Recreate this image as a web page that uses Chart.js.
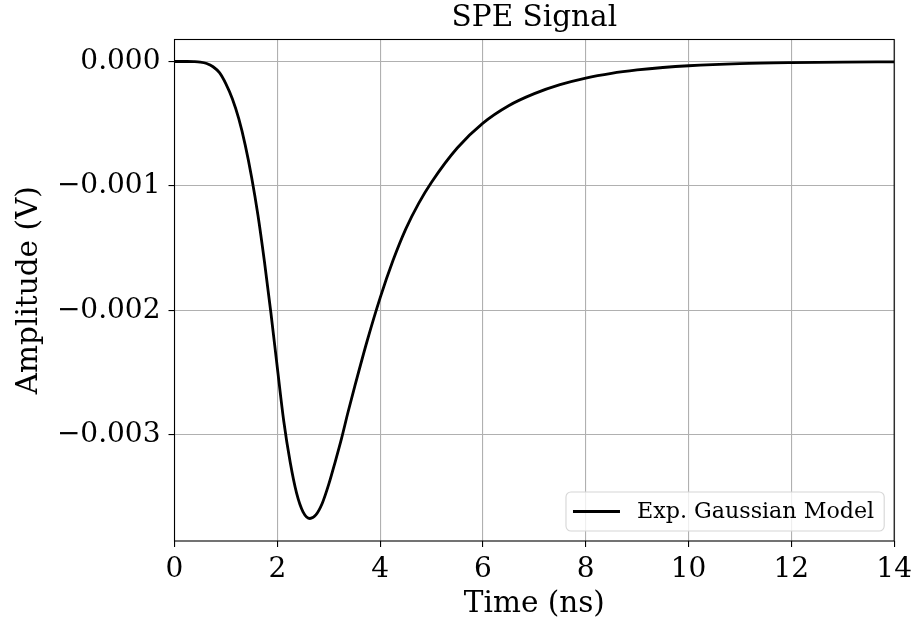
<!DOCTYPE html>
<html>
<head>
<meta charset="utf-8">
<script src="https://cdn.jsdelivr.net/npm/chart.js@4.4.1/dist/chart.umd.min.js"></script>
<style>
  html, body { margin: 0; padding: 0; background: #ffffff; }
  #wrap { width: 918px; height: 620px; }
</style>
</head>
<body>
<div id="wrap"><canvas id="c" width="918" height="620"></canvas></div>
<script>
// ---- data ----
const timeNs = [0.0, 0.25, 0.375, 0.5, 0.625, 0.75, 0.875, 1.0, 1.125, 1.25, 1.375, 1.5, 1.625, 1.75, 1.875, 2.0, 2.125, 2.25, 2.375, 2.5, 2.635, 2.75, 2.875, 3.0, 3.125, 3.25, 3.375, 3.5, 3.75, 4.0, 4.25, 4.5, 4.75, 5.0, 5.5, 6.0, 6.5, 7.0, 7.5, 8.0, 8.5, 9.0, 9.5, 10.0, 11.0, 12.0, 13.0, 14.0];
const amplitudeV = [0.0, 0.0, -0.0000012, -0.000005, -0.000016, -0.000042, -0.00009, -0.00018, -0.0003, -0.00046, -0.00067, -0.00093, -0.00124, -0.00161, -0.00202, -0.00246, -0.00289, -0.00322, -0.00347, -0.00362, -0.003674, -0.003645, -0.003551, -0.0034, -0.00322, -0.00303, -0.00282, -0.002622, -0.002243, -0.0019, -0.0016, -0.001345, -0.00114, -0.00097, -0.000695, -0.000495, -0.000355, -0.000258, -0.000186, -0.000133, -0.000095, -0.000068, -0.000048, -0.000034, -0.000017, -0.0000087, -0.0000044, -0.0000022];
const xTicks = [0, 2, 4, 6, 8, 10, 12, 14];
const yTicks = [0.0, -0.001, -0.002, -0.003];
const seriesLabel = 'Exp. Gaussian Model';
const chartTitle = 'SPE Signal';
const xLabel = 'Time (ns)';
const yLabel = 'Amplitude (V)';

const FAMILY = '"DejaVu Serif", "Liberation Serif", serif';

const frameAndLegend = {
  id: 'frameAndLegend',
  afterDatasetsDraw(chart) {
    const { ctx, chartArea: a } = chart;
    ctx.save();
    // full box frame
    ctx.strokeStyle = '#000000';
    ctx.lineWidth = 1.1;
    ctx.strokeRect(a.left, a.top, a.right - a.left, a.bottom - a.top);

    // legend (inside, lower right)
    const ds = chart.data.datasets[0];
    ctx.font = '22.2px ' + FAMILY;
    const tw = ctx.measureText(ds.label).width;
    const padL = 7, lineLen = 47, gap = 17, padR = 10, boxH = 39;
    const boxW = padL + lineLen + gap + tw + padR;
    const bx = a.right - 10 - boxW;
    const by = a.bottom - 10 - boxH;
    const r = 5;
    ctx.beginPath();
    ctx.moveTo(bx + r, by);
    ctx.lineTo(bx + boxW - r, by);
    ctx.arcTo(bx + boxW, by, bx + boxW, by + r, r);
    ctx.lineTo(bx + boxW, by + boxH - r);
    ctx.arcTo(bx + boxW, by + boxH, bx + boxW - r, by + boxH, r);
    ctx.lineTo(bx + r, by + boxH);
    ctx.arcTo(bx, by + boxH, bx, by + boxH - r, r);
    ctx.lineTo(bx, by + r);
    ctx.arcTo(bx, by, bx + r, by, r);
    ctx.closePath();
    ctx.fillStyle = 'rgba(255,255,255,0.8)';
    ctx.fill();
    ctx.strokeStyle = '#d6d6d6';
    ctx.lineWidth = 1.1;
    ctx.stroke();
    const cy = by + boxH / 2;
    ctx.beginPath();
    ctx.moveTo(bx + padL, cy);
    ctx.lineTo(bx + padL + lineLen, cy);
    ctx.strokeStyle = ds.borderColor;
    ctx.lineWidth = ds.borderWidth;
    ctx.stroke();
    ctx.fillStyle = '#000000';
    ctx.textBaseline = 'middle';
    ctx.textAlign = 'left';
    ctx.fillText(ds.label, bx + padL + lineLen + gap, cy + 1);
    ctx.restore();
  }
};

const points = timeNs.map((t, i) => ({ x: t, y: amplitudeV[i] }));

new Chart(document.getElementById('c'), {
  type: 'line',
  data: {
    datasets: [{
      label: seriesLabel,
      data: points,
      borderColor: '#000000',
      borderWidth: 2.8,
      pointRadius: 0,
      fill: false,
      cubicInterpolationMode: 'monotone'
    }]
  },
  options: {
    responsive: false,
    animation: false,
    devicePixelRatio: 1,
    layout: { padding: { left: 0, right: 23, top: 0, bottom: 0 } },
    plugins: {
      legend: { display: false },
      tooltip: { enabled: false },
      title: {
        display: true,
        fullSize: false,
        text: chartTitle,
        color: '#000000',
        font: { family: FAMILY, size: 29.5, weight: 'normal' },
        padding: { top: 0.5, bottom: 3.6 }
      }
    },
    scales: {
      x: {
        type: 'linear',
        min: xTicks[0],
        max: xTicks[xTicks.length - 1],
        afterFit(s) { s.height = 79; },
        afterBuildTicks(s) { s.ticks = xTicks.map(v => ({ value: v })); },
        ticks: {
          color: '#000000',
          font: { family: FAMILY, size: 28 },
          padding: 6,
          maxRotation: 0,
          autoSkip: false,
          callback: v => String(v)
        },
        grid: { color: '#b0b0b0', lineWidth: 1.1, tickColor: '#000000', tickLength: 6, drawTicks: true },
        border: { display: false },
        title: {
          display: true,
          text: xLabel,
          color: '#000000',
          font: { family: FAMILY, size: 29.5 },
          padding: { top: 0, bottom: -2 }
        }
      },
      y: {
        type: 'linear',
        min: -0.003855,
        max: 0.000177,
        afterFit(s) { s.width = 174.5; },
        afterBuildTicks(s) { s.ticks = yTicks.map(v => ({ value: v })); },
        ticks: {
          color: '#000000',
          font: { family: FAMILY, size: 28 },
          padding: 8,
          autoSkip: false,
          callback: v => (v < -1e-12 ? '\u2212' : '') + Math.abs(v).toFixed(3)
        },
        grid: { color: '#b0b0b0', lineWidth: 1.1, tickColor: '#000000', tickLength: 6, drawTicks: true },
        border: { display: false },
        title: {
          display: true,
          text: yLabel,
          color: '#000000',
          font: { family: FAMILY, size: 29.5 },
          padding: { top: 12, bottom: 0 }
        }
      }
    }
  },
  plugins: [frameAndLegend]
});
</script>
</body>
</html>
